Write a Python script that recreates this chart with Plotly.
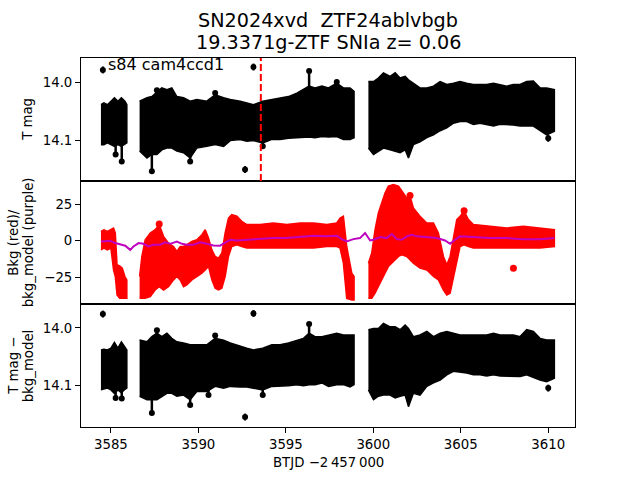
import plotly.graph_objects as go

# ---------------- time grids (BTJD - 2457000) ----------------
tA = [3584.43, 3584.60, 3584.80, 3585.00, 3585.20, 3585.40, 3585.60, 3585.80, 3585.91]
tB = [3586.64, 3587.06, 3587.34, 3587.63, 3587.91, 3588.20, 3588.48, 3588.77, 3589.15, 3589.53,
      3589.91, 3590.48, 3590.96, 3591.44, 3591.82, 3592.39, 3592.77, 3593.15, 3593.68, 3594.20,
      3594.67, 3595.15, 3595.63, 3596.01, 3596.33, 3596.67, 3597.06, 3597.44, 3597.91, 3598.29,
      3598.67, 3598.90]
tC = [3599.72, 3600.01, 3600.29, 3600.58, 3600.96, 3601.25, 3601.53, 3601.82, 3602.01, 3602.29,
      3602.67, 3603.06, 3603.44, 3603.82, 3604.20, 3604.58, 3604.96, 3605.34, 3605.72, 3606.10,
      3606.48, 3606.87, 3607.25, 3607.63, 3608.01, 3608.39, 3608.77, 3609.15, 3609.53, 3609.91,
      3610.35]

# ---------------- panel 1: T mag envelope (bright edge / faint edge) ----------------
magA_hi = [14.038, 14.035, 14.038, 14.032, 14.026, 14.032, 14.026, 14.032, 14.038]
magA_lo = [14.107, 14.107, 14.104, 14.107, 14.110, 14.107, 14.110, 14.106, 14.104]
magB_hi = [14.032, 14.026, 14.024, 14.016, 14.009, 14.012, 14.009, 14.024, 14.026, 14.032,
           14.029, 14.032, 14.021, 14.026, 14.029, 14.032, 14.035, 14.038, 14.032, 14.029,
           14.026, 14.024, 14.018, 14.012, 14.006, 14.009, 14.006, 14.009, 14.001, 14.009,
           14.009, 14.015]
magB_lo = [14.118, 14.130, 14.124, 14.124, 14.116, 14.113, 14.113, 14.118, 14.121, 14.130,
           14.113, 14.110, 14.107, 14.110, 14.100, 14.098, 14.101, 14.100, 14.104, 14.098,
           14.098, 14.096, 14.095, 14.095, 14.094, 14.095, 14.093, 14.094, 14.093, 14.098,
           14.098, 14.095]
magC_hi = [13.998, 13.998, 13.992, 13.983, 13.989, 13.983, 13.992, 13.989, 13.995, 14.001,
           14.009, 14.009, 14.006, 13.998, 14.003, 14.001, 13.998, 14.001, 14.003, 14.003,
           14.003, 14.001, 14.003, 14.006, 14.003, 14.003, 13.998, 13.997, 14.009, 14.009,
           14.012]
magC_lo = [14.113, 14.124, 14.118, 14.113, 14.116, 14.118, 14.121, 14.116, 14.130, 14.107,
           14.102, 14.095, 14.090, 14.083, 14.078, 14.070, 14.067, 14.067, 14.072, 14.070,
           14.072, 14.075, 14.072, 14.072, 14.073, 14.075, 14.075, 14.075, 14.083, 14.090,
           14.084]
# isolated points and spikes hanging off the band
mag_out_t = [3584.54, 3592.67, 3593.15, 3610.00]
mag_out_v = [13.978, 14.150, 13.973, 14.096]
mag_spk_t = [3585.27, 3585.62, 3587.34, 3589.53, 3593.68, 3587.63, 3590.96, 3597.91, 3596.33]
mag_spk_v = [14.124, 14.136, 14.153, 14.136, 14.110, 14.013, 14.018, 13.999, 13.980]

# ---------------- panel 3: T mag - bkg_model envelope ----------------
resA_hi = [14.038, 14.037, 14.038, 14.035, 14.025, 14.035, 14.024, 14.032, 14.038]
resA_lo = [14.107, 14.106, 14.104, 14.107, 14.113, 14.107, 14.112, 14.106, 14.104]
resB_hi = [14.021, 14.024, 14.015, 14.009, 14.015, 14.009, 14.018, 14.024, 14.026, 14.029,
           14.029, 14.029, 14.018, 14.021, 14.026, 14.032, 14.035, 14.038, 14.035, 14.029,
           14.029, 14.026, 14.021, 14.018, 14.009, 14.015, 14.015, 14.012, 14.009, 14.012,
           14.012, 14.012]
resB_lo = [14.118, 14.124, 14.124, 14.124, 14.118, 14.113, 14.113, 14.118, 14.116, 14.124,
           14.110, 14.110, 14.101, 14.104, 14.101, 14.102, 14.102, 14.104, 14.107, 14.101,
           14.101, 14.100, 14.098, 14.100, 14.098, 14.098, 14.095, 14.101, 14.098, 14.098,
           14.102, 14.098]
resC_hi = [14.003, 14.001, 14.001, 13.992, 13.998, 13.998, 14.003, 13.995, 14.001, 14.015,
           14.012, 14.006, 14.015, 14.009, 14.006, 14.009, 14.012, 14.012, 14.012, 14.012,
           14.012, 14.009, 14.012, 14.012, 14.012, 14.015, 14.003, 14.006, 14.018, 14.021,
           14.021]
resC_lo = [14.107, 14.124, 14.118, 14.116, 14.116, 14.121, 14.118, 14.116, 14.136, 14.113,
           14.116, 14.101, 14.095, 14.090, 14.081, 14.075, 14.077, 14.078, 14.081, 14.081,
           14.083, 14.081, 14.083, 14.084, 14.084, 14.084, 14.081, 14.085, 14.090, 14.093,
           14.087]
res_out_t = [3584.54, 3592.67, 3593.15, 3610.00]
res_out_v = [13.976, 14.154, 13.975, 14.104]
res_spk_t = [3585.27, 3585.62, 3587.34, 3589.53, 3590.58, 3593.68, 3587.63, 3590.96, 3596.33]
res_spk_v = [14.121, 14.122, 14.147, 14.133, 14.116, 14.116, 14.004, 14.013, 13.993]

# ---------------- panel 2: background (red) envelope ----------------
bt_A = [3584.43, 3584.60, 3584.80, 3585.00, 3585.15, 3585.25, 3585.35, 3585.50, 3585.65, 3585.80, 3585.91]
bkgA_hi = [6.4, 7.5, 6.4, 7.5, 8.7, 5.3, -16.4, -17.1, -18.7, -24.4, -26.7]
bkgA_lo = [-6.2, -5.0, -6.2, -5.0, -19.9, -24.4, -37.0, -39.3, -39.3, -39.3, -39.3]
bt_B = [3586.64, 3586.77, 3586.96, 3587.25, 3587.53, 3587.76, 3588.01, 3588.29, 3588.58, 3588.77,
        3588.96, 3589.15, 3589.34, 3589.63, 3589.91, 3590.20, 3590.39, 3590.58, 3590.77, 3590.96,
        3591.15, 3591.34, 3591.53, 3591.72, 3591.91, 3592.20, 3592.48, 3592.77, 3593.53, 3594.29,
        3595.06, 3595.82, 3596.58, 3597.34, 3597.91, 3598.10, 3598.29, 3598.48, 3598.77, 3598.90]
bkgB_hi = [-24.4, -10.7, 0.7, 5.3, 7.5, 11.0, 3.0, -1.6, -3.9, -7.3,
           -3.9, -3.9, -2.7, -0.5, 0.7, 4.1, 7.5, 1.8, -6.2, -10.7,
           -11.9, -8.4, 5.3, 15.5, 17.8, 16.7, 13.2, 11.0, 11.0, 12.1,
           11.0, 12.1, 12.1, 11.0, 12.1, 15.5, 16.7, -3.9, -22.1, -24.4]
bkgB_lo = [-39.3, -39.3, -39.3, -38.1, -33.6, -31.3, -33.6, -31.3, -26.7, -24.4,
           -26.7, -31.3, -30.1, -26.7, -24.4, -22.1, -19.9, -17.6, -26.7, -32.4,
           -33.6, -32.4, -24.4, -10.7, -3.9, -2.7, -3.9, -5.0, -5.0, -5.0,
           -5.0, -5.0, -5.0, -3.9, -3.9, -5.0, -15.3, -39.3, -40.4, -40.4]
bt_C = [3599.72, 3599.91, 3600.10, 3600.29, 3600.48, 3600.67, 3600.86, 3601.15, 3601.44, 3601.63,
        3601.91, 3602.10, 3602.29, 3602.67, 3603.06, 3603.44, 3603.72, 3604.01, 3604.20, 3604.39,
        3604.58, 3604.77, 3604.96, 3605.19, 3605.44, 3605.72, 3606.67, 3607.63, 3608.58, 3609.53,
        3610.35]
bkgC_hi = [-15.3, -8.4, 7.5, 18.9, 25.8, 32.6, 37.2, 38.4, 37.2, 33.8,
           29.2, 30.4, 22.4, 16.7, 12.1, 12.1, 5.3, -10.7, -16.4, -10.7,
           3.0, 14.4, 16.7, 20.1, 14.4, 11.0, 9.8, 8.7, 9.8, 8.7, 7.5]
bkgC_lo = [-39.3, -39.3, -35.8, -31.3, -26.7, -22.1, -17.6, -14.2, -10.7, -9.6,
           -10.7, -13.0, -15.3, -18.7, -19.9, -24.4, -26.7, -33.6, -37.0, -35.8,
           -26.7, -15.3, -3.9, -2.7, -3.9, -5.0, -5.0, -5.0, -5.0, -5.0, -3.9]
bkg_out_t = [3608.01, 3587.76, 3602.10, 3605.19]
bkg_out_v = [-18.7, 11.5, 30.8, 20.5]

# background model (purple)
model_t = [3584.43, 3584.77, 3584.96, 3585.25, 3585.53, 3585.82, 3586.10, 3586.29, 3586.58, 3586.86,
           3587.15, 3587.44, 3587.82, 3588.10, 3588.39, 3588.77, 3589.06, 3589.34, 3589.72, 3590.10,
           3590.48, 3590.86, 3591.24, 3591.53, 3591.82, 3592.20, 3592.77, 3593.53, 3594.29, 3595.06,
           3595.82, 3596.58, 3597.34, 3597.91, 3598.20, 3598.48, 3598.86, 3599.24,
           3599.53, 3599.82, 3600.01, 3600.39, 3600.77, 3601.06, 3601.34, 3601.63, 3601.91, 3602.20,
           3602.48, 3603.06, 3603.63, 3604.10, 3604.39, 3604.67, 3604.96, 3605.72, 3606.67, 3607.63,
           3608.58, 3609.53, 3610.35]
model_v = [-0.5, -0.5, 0.0, -1.6, -2.7, -3.4, -6.2, -3.9, -1.6, -2.1,
           -3.9, -2.7, -2.7, -1.1, -2.1, -0.5, -2.1, -2.7, -2.7, -1.1,
           -2.1, -3.2, -3.4, -1.6, 0.7, 0.2, 0.7, 1.1, 1.8, 1.8,
           2.5, 3.4, 3.0, 3.4, 1.1, -0.5, 1.1, 1.8,
           5.3, 0.2, 0.7, 2.5, 1.8, 4.6, 1.1, 0.7, 3.0, 4.1,
           3.0, 2.5, 1.8, 0.2, -2.1, 0.7, 3.0, 2.5, 1.8, 1.8,
           1.1, 1.1, 1.8]

t_peak = 3593.57

x_ticks = [3585, 3590, 3595, 3600, 3605, 3610]
mag_ticks = [14.0, 14.1]
bkg_ticks = [-25, 0, 25]

FONT = "DejaVu Sans"
fig = go.Figure()


def add_band(t, hi, lo, color, xa, ya):
    fig.add_trace(go.Scatter(
        x=list(t) + list(t)[::-1], y=list(hi) + list(lo)[::-1],
        xaxis=xa, yaxis=ya, mode="lines", fill="toself",
        fillcolor=color, line=dict(color=color, width=1.5),
        hoverinfo="skip", showlegend=False))


def add_points(t, v, xa, ya, err):
    fig.add_trace(go.Scatter(x=t, y=v, xaxis=xa, yaxis=ya, mode="markers",
                             marker=dict(color="black", size=6),
                             error_y=dict(type="constant", value=err, color="black",
                                          thickness=2, width=0),
                             hoverinfo="skip", showlegend=False))


def add_spikes(t, v, xa, ya, mid):
    # spikes: a point joined to the band by its error bar (pointing toward band centre)
    up = [0.0 if val > mid else 0.03 for val in v]
    down = [0.03 if val > mid else 0.0 for val in v]
    fig.add_trace(go.Scatter(x=t, y=v, xaxis=xa, yaxis=ya, mode="markers",
                             marker=dict(color="black", size=6),
                             error_y=dict(type="data", array=up, arrayminus=down, color="black",
                                          thickness=2.5, width=0),
                             hoverinfo="skip", showlegend=False))


# panel 1
for t, hi, lo in [(tA, magA_hi, magA_lo), (tB, magB_hi, magB_lo), (tC, magC_hi, magC_lo)]:
    add_band(t, hi, lo, "black", "x", "y")
add_spikes(mag_spk_t, mag_spk_v, "x", "y", 14.06)
add_points(mag_out_t, mag_out_v, "x", "y", 0.006)

# panel 2
for t, hi, lo in [(bt_A, bkgA_hi, bkgA_lo), (bt_B, bkgB_hi, bkgB_lo), (bt_C, bkgC_hi, bkgC_lo)]:
    add_band(t, hi, lo, "#ff0000", "x2", "y2")
fig.add_trace(go.Scatter(x=bkg_out_t, y=bkg_out_v, xaxis="x2", yaxis="y2", mode="markers",
                         marker=dict(color="#ff0000", size=7), hoverinfo="skip", showlegend=False))
fig.add_trace(go.Scatter(x=model_t, y=model_v, xaxis="x2", yaxis="y2", mode="lines",
                         line=dict(color="#bf00bf", width=2), hoverinfo="skip", showlegend=False))

# panel 3
for t, hi, lo in [(tA, resA_hi, resA_lo), (tB, resB_hi, resB_lo), (tC, resC_hi, resC_lo)]:
    add_band(t, hi, lo, "black", "x3", "y3")
add_spikes(res_spk_t, res_spk_v, "x3", "y3", 14.06)
add_points(res_out_t, res_out_v, "x3", "y3", 0.006)

fig.add_shape(type="line", xref="x", yref="y domain", x0=t_peak, x1=t_peak, y0=0, y1=1,
              line=dict(color="#ff0000", width=2, dash="7px,3px"))

XR = [3583.29, 3611.53]
axis_common = dict(showline=True, mirror=True, linecolor="black", linewidth=1,
                   showgrid=False, zeroline=False,
                   tickfont=dict(family=FONT, size=13.3, color="black"))
xhide = dict(axis_common, range=XR, showticklabels=False, ticks="")
ystyle = dict(axis_common, ticks="outside", ticklen=5, tickwidth=1, tickcolor="black")

fig.update_layout(
    width=640, height=480,
    margin=dict(l=81, r=65, t=58, b=53),
    paper_bgcolor="white", plot_bgcolor="white",
    showlegend=False,
    xaxis=dict(xhide, domain=[0, 1], anchor="y", matches="x3"),
    xaxis2=dict(xhide, domain=[0, 1], anchor="y2", matches="x3"),
    xaxis3=dict(axis_common, domain=[0, 1], anchor="y3", range=XR,
                ticks="outside", ticklen=5, tickwidth=1, tickcolor="black",
                tickvals=x_ticks, ticktext=[str(v) for v in x_ticks]),
    yaxis=dict(ystyle, domain=[2 / 3, 1], anchor="x", range=[14.1698, 13.9574],
               tickvals=mag_ticks, ticktext=["14.0", "14.1"]),
    yaxis2=dict(ystyle, domain=[1 / 3, 2 / 3], anchor="x2", range=[-43.15, 40.75],
                tickvals=bkg_ticks, ticktext=["\u221225", "0", "25"]),
    yaxis3=dict(ystyle, domain=[0, 1 / 3], anchor="x3", range=[14.1712, 13.9586],
                tickvals=mag_ticks, ticktext=["14.0", "14.1"]),
)

ann = []
def txt(text, x, y, size=13.3, angle=0, xanchor="center"):
    ann.append(dict(text=text, x=x, y=y, xref="paper", yref="paper", showarrow=False,
                    textangle=angle, xanchor=xanchor, yanchor="middle",
                    font=dict(family=FONT, size=size, color="black")))

txt("SN2024xvd  ZTF24ablvbgb", 0.5, 1.1010, size=19.2)
txt("19.3371g-ZTF SNIa z= 0.06", 0.5, 1.0415, size=19.2)
txt("s84 cam4ccd1", 0.0512, 0.982, size=16, xanchor="left")
txt("BTJD \u22122\u2009457\u2009000", 0.5, -0.0975)
txt("T mag", -0.1086, 5 / 6, angle=-90)
txt("Bkg (red)/", -0.137, 0.5, angle=-90)
txt("bkg_model (purple)", -0.1056, 0.5, angle=-90)
txt("T mag \u2212", -0.137, 1 / 6, angle=-90)
txt("bkg_model", -0.1056, 1 / 6, angle=-90)
fig.update_layout(annotations=ann)

fig.write_html("out.html")
